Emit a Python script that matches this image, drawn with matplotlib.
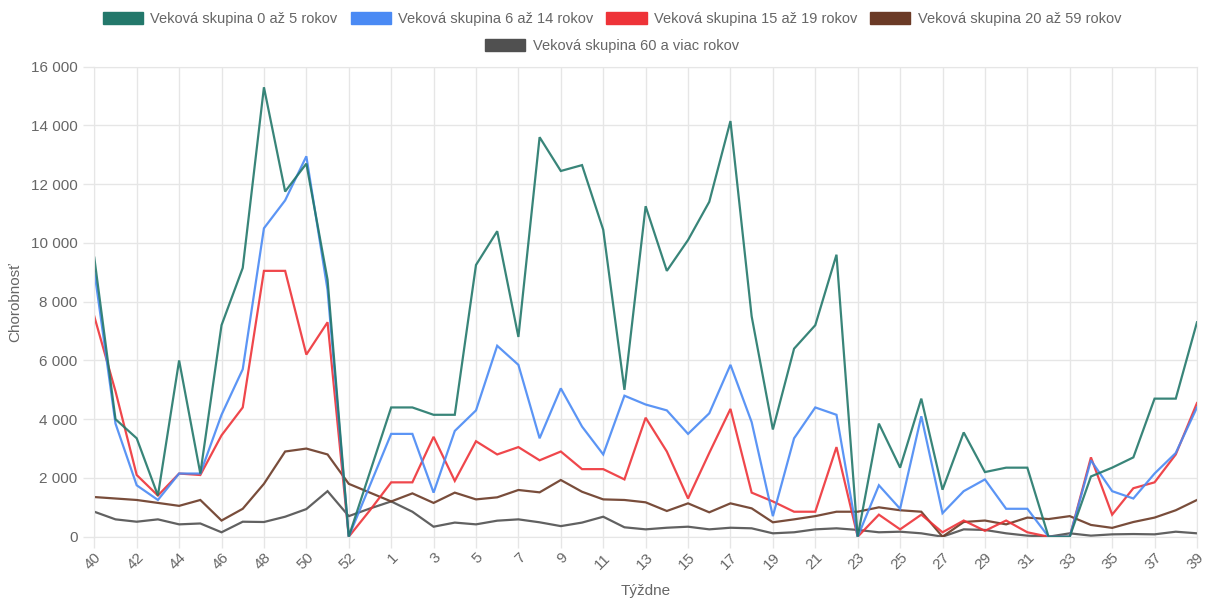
import matplotlib
matplotlib.use("Agg")
import matplotlib.pyplot as plt
from matplotlib.patches import Patch
from matplotlib.ticker import FuncFormatter

weeks = [str(w) for w in range(40, 54)] + [str(w) for w in range(1, 40)]

age_0_5 = [9500, 4000, 3350, 1400, 6000, 2150, 7200, 9150, 15300, 11750, 12700, 8750, 0, 2200,
           4400, 4400, 4150, 4150, 9250, 10400, 6800, 13600, 12450, 12650, 10450, 5000, 11250,
           9050, 10100, 11400, 14150, 7500, 3650, 6400, 7200, 9600, 0, 3850, 2350, 4700, 1600,
           3550, 2200, 2350, 2350, 0, 0, 2050, 2350, 2700, 4700, 4700, 7300]
age_6_14 = [9050, 3850, 1750, 1250, 2150, 2150, 4150, 5700, 10500, 11450, 12950, 8400, 0, 1750,
            3500, 3500, 1500, 3600, 4300, 6500, 5850, 3350, 5050, 3750, 2800, 4800, 4500,
            4300, 3500, 4200, 5850, 3900, 700, 3350, 4400, 4150, 0, 1750, 950, 4100, 800,
            1550, 1950, 950, 950, 0, 0, 2600, 1550, 1300, 2150, 2850, 4400]
age_15_19 = [7500, 4950, 2100, 1400, 2150, 2100, 3450, 4400, 9050, 9050, 6200, 7300, 0, 900,
             1850, 1850, 3400, 1900, 3250, 2800, 3050, 2600, 2900, 2300, 2300, 1950, 4050,
             2900, 1300, 2850, 4350, 1500, 1200, 850, 850, 3050, 0, 750, 250, 750, 150,
             550, 200, 550, 150, 0, 0, 2700, 750, 1650, 1850, 2800, 4550]
age_20_59 = [1350, 1300, 1250, 1150, 1050, 1250, 550, 950, 1800, 2900, 3000, 2800, 1800, 1500,
             1200, 1475, 1150, 1500, 1270, 1340, 1590, 1510, 1930, 1530, 1270, 1250, 1170,
             875, 1135, 830, 1135, 965, 490, 590, 700, 850, 850, 1000, 900, 850, 0,
             500, 550, 420, 650, 600, 700, 400, 300, 500, 650, 900, 1250]
age_60p = [850, 590, 510, 590, 420, 450, 150, 510, 500, 680, 940, 1550, 700, 960,
           1200, 850, 340, 480, 420, 545, 590, 490, 360, 480, 680, 320, 250,
           305, 340, 250, 305, 285, 115, 150, 250, 285, 230, 150, 170, 115, 0,
           250, 230, 115, 35, 0, 115, 35, 80, 90, 80, 170, 115]

series_labels = ["Veková skupina 0 až 5 rokov", "Veková skupina 6 až 14 rokov",
                 "Veková skupina 15 až 19 rokov", "Veková skupina 20 až 59 rokov",
                 "Veková skupina 60 a viac rokov"]
series = [age_0_5, age_6_14, age_15_19, age_20_59, age_60p]
colors = ["#23786b", "#4a8af4", "#ee3338", "#6b3a26", "#505050"]

plt.rcParams['font.family'] = ['Liberation Sans', 'DejaVu Sans']
txt = "#666666"
gridc = "#e6e6e6"

fig = plt.figure(figsize=(12.12, 6.01), dpi=100)
ax = fig.add_axes([0.0778, 0.107, 0.9098, 0.782])

x = list(range(len(weeks)))
for vals, c in reversed(list(zip(series, colors))):
    ax.plot(x, vals, color=c, lw=1.6, alpha=0.9, solid_joinstyle='miter')

ax.set_xlim(0, len(weeks) - 1)
ax.set_ylim(0, 16000)
ax.set_yticks(range(0, 16001, 2000))
ax.yaxis.set_major_formatter(FuncFormatter(lambda v, p: f"{int(v):,}".replace(",", " ")))
ax.set_xticks(x[::2])
ax.set_xticklabels(weeks[::2], rotation=45, ha='right', rotation_mode='anchor')

ax.grid(True, color=gridc, lw=1)
ax.set_axisbelow(True)
for s in ax.spines.values():
    s.set_color(gridc)
ax.tick_params(axis='both', colors=gridc, labelcolor=txt, labelsize=11, length=8, width=1)
ax.tick_params(axis='y', pad=4)
ax.tick_params(axis='x', pad=2)

ax.set_xlabel("Týždne", color=txt, fontsize=11, labelpad=8)
ax.set_ylabel("Chorobnosť", color=txt, fontsize=11, labelpad=6)

handles = [Patch(facecolor=c, edgecolor=c, alpha=1.0, lw=1) for c in colors]
common = dict(frameon=False, fontsize=10.5, handlelength=2.75, handleheight=0.9,
              handletextpad=0.5, columnspacing=0.9, labelcolor=txt)
fig.legend(handles[:4], series_labels[:4], loc='center', bbox_to_anchor=(0.505, 0.968),
           ncol=4, **common)
fig.legend(handles[4:], series_labels[4:], loc='center', bbox_to_anchor=(0.505, 0.923),
           ncol=1, **common)

fig.savefig("out.png", dpi=100, facecolor="white")
